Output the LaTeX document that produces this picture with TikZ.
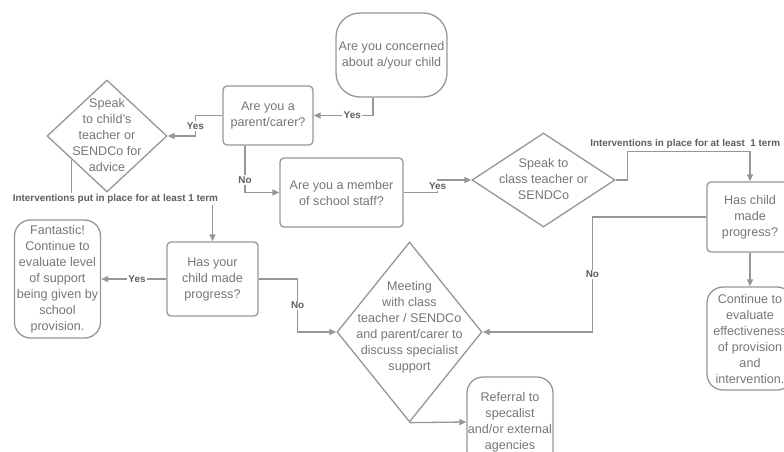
\documentclass[tikz,border=0pt]{standalone}
\usepackage{fontspec}
\setmainfont{Liberation Sans}
\usetikzlibrary{shapes.geometric,arrows.meta,calc}
\definecolor{lg}{RGB}{150,150,150}
\definecolor{tg}{RGB}{118,118,118}
\definecolor{lblg}{RGB}{95,95,95}
\begin{document}
\begin{tikzpicture}[x=1pt,y=-1pt,
  nd/.style={draw=lg, line width=1.3pt, text=tg, align=center, inner sep=0pt,
    font=\fontsize{12.6}{16}\selectfont},
  box/.style={nd, rectangle, rounded corners=4pt},
  pill/.style={nd, rectangle, rounded corners=16pt},
  dia/.style={draw=lg, line width=1.3pt, diamond, inner sep=0pt},
  dtxt/.style={text=tg, align=center, inner sep=0pt, font=\fontsize{12.6}{16}\selectfont},
  arr/.style={draw=lg, line width=1.3pt, -{Triangle[length=7pt,width=6pt]}},
  lbl/.style={fill=white, text=lblg, font=\bfseries\fontsize{9.9}{12}\selectfont, inner sep=1.5pt}
]
\useasboundingbox (0,0) rectangle (784,452);
\clip (0,0) rectangle (784,452);

% nodes
\node[pill, rounded corners=24pt, minimum width=111, minimum height=84] (conc) at (391.5,55) {Are you concerned\\about a/your child};
\node[box, minimum width=90, minimum height=59] (par) at (268,115.5) {Are you a\\parent/carer?};
\node[dia, minimum width=120, minimum height=112] (d1) at (107,136) {};
\node[dtxt] (d1t) at (107,134.5) {Speak\\to child's\\teacher or\\SENDCo for\\advice};
\node[box, minimum width=123, minimum height=69] (staff) at (341.5,192.5) {Are you a member\\of school staff?};
\node[dia, minimum width=143, minimum height=94] (d2) at (543.5,180) {};
\node[dtxt] (d2t) at (543.5,178.5) {Speak to\\class teacher or\\SENDCo};
\node[box, minimum width=86, minimum height=70] (hc) at (750,217) {Has child\\made\\progress?};
\node[pill, minimum width=86, minimum height=103] (cont) at (750,338.5) {Continue to\\evaluate\\effectiveness\\of provision\\and\\intervention.};
\node[box, minimum width=91, minimum height=74] (hy) at (212.5,279) {Has your\\child made\\progress?};
\node[pill, minimum width=86, minimum height=118] (fan) at (57.5,279) {Fantastic!\\Continue to\\evaluate level\\of support\\being given by\\school\\provision.};
\node[dia, minimum width=145, minimum height=180] (meet) at (409.5,332) {};
\node[dtxt] (meett) at (409.5,327) {Meeting\\with class\\teacher / SENDCo\\and parent/carer to\\discuss specialist\\support};
\node[pill, minimum width=86, minimum height=90] (ref) at (510,422) {Referral to\\specalist\\and/or external\\agencies};

% connectors
\draw[arr] ([xshift=-18.5pt]conc.south) |- node[lbl,pos=0.675]{Yes} (par.east);
\draw[arr] (par.west) -- ++(-27,0) |- node[lbl,pos=0.25]{Yes} (d1.east);
\draw[arr] ([xshift=-23pt]par.south) |- node[lbl,pos=0.37]{No} (staff.west);
\draw[arr] (staff.east) -- ++(34,0) |- node[lbl,pos=0.25]{Yes} (d2.west);
\draw[arr] (d2.east) -- ++(12,0) |- node[lbl,fill=none,above,yshift=1pt,pos=0.735]{Interventions in place for at least~ 1 term} ([yshift=30pt]hc.north) -- (hc.north);
\draw[arr] (hc.west) -- ++(-114,0) |- node[lbl,pos=0.25]{No} (meet.east);
\draw[arr] (hc.south) -- (cont.north);
\draw[arr] ($(d1.west)!0.42!(d1.south)$) |- node[lbl,pos=0.655]{Interventions put in place for at least 1 term} ([yshift=42pt]hy.north) -- (hy.north);
\draw[arr] (hy.west) -- node[lbl,pos=0.45]{Yes} (fan.east);
\draw[arr] (hy.east) -- ++(39,0) |- node[lbl,pos=0.25]{No} (meet.west);
\draw[arr] (meet.south) -- (ref.west);
\end{tikzpicture}
\end{document}
